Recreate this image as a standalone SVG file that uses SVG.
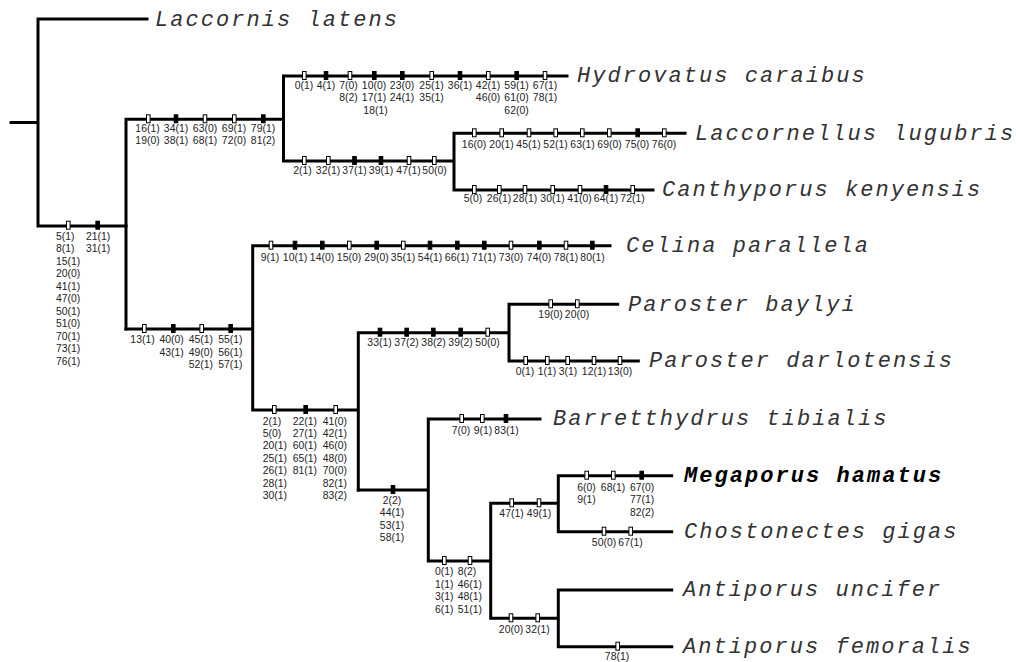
<svg xmlns="http://www.w3.org/2000/svg" xmlns:xlink="http://www.w3.org/1999/xlink" width="1016" height="662" viewBox="0 0 1016 662">
<style>
.br{stroke:#000;stroke-width:3;fill:none;stroke-linecap:square}
.o{fill:#fff;stroke:#000;stroke-width:1}
.f{fill:#000;stroke:#000;stroke-width:1}
.lb{font-family:"Liberation Sans",Arial,sans-serif;font-size:10.4px;fill:#222}
.c{text-anchor:middle}
.tx{font-family:"Liberation Mono","Courier New",monospace;font-style:italic;font-size:22px;letter-spacing:2.05px;fill:#333}
.bd{font-weight:bold;fill:#000}
</style>
<defs>
<rect id="mo" class="o" x="-1.8" y="-4.5" width="3.6" height="8"/>
<rect id="mf" class="f" x="-1.8" y="-4.5" width="3.6" height="8"/>
</defs>
<rect width="1016" height="662" fill="#fff"/>

<g id="connectors">
<path class="br" d="M11 122.5H38M38 19V226M38 19H147M38 226H126"/>
<path class="br" d="M126 119.3V329M126 119.3H283.5M283.5 76V161M283.5 76H567M283.5 161H454M454 133.3V190M454 133.3H685M454 190H653"/>
<path class="br" d="M126 329H252.7M252.7 245.7V410M252.7 245.7H610M252.7 410H358.3M358.3 332.7V490M358.3 332.7H509M509 304.3V361M509 304.3H617.7M509 361H638.3"/>
<path class="br" d="M358.3 490H428.3M428.3 419V561M428.3 419H540M428.3 561H490.7M490.7 503.3V618.3M490.7 503.3H558.3M558.3 475.7V531.7M558.3 475.7H671.7M558.3 531.7H671.7M490.7 618.3H558.3M558.3 590V646.7M558.3 590H671.7M558.3 646.7H671.7"/>
</g>

<g id="taxon-laccornis-latens"><text class="tx" x="155" y="25.5">Laccornis latens</text></g>
<g id="taxon-hydrovatus-caraibus"><text class="tx" x="577" y="82">Hydrovatus caraibus</text></g>
<g id="taxon-laccornellus-lugubris"><text class="tx" x="695" y="139.5">Laccornellus lugubris</text></g>
<g id="taxon-canthyporus-kenyensis"><text class="tx" x="662" y="196">Canthyporus kenyensis</text></g>
<g id="taxon-celina-parallela"><text class="tx" x="626" y="252">Celina parallela</text></g>
<g id="taxon-paroster-baylyi"><text class="tx" x="628" y="310.5">Paroster baylyi</text></g>
<g id="taxon-paroster-darlotensis"><text class="tx" x="649" y="367">Paroster darlotensis</text></g>
<g id="taxon-barretthydrus-tibialis"><text class="tx" x="553" y="425">Barretthydrus tibialis</text></g>
<g id="taxon-megaporus-hamatus"><text class="tx bd" x="684" y="482">Megaporus hamatus</text></g>
<g id="taxon-chostonectes-gigas"><text class="tx" x="684" y="538">Chostonectes gigas</text></g>
<g id="taxon-antiporus-uncifer"><text class="tx" x="683" y="596">Antiporus uncifer</text></g>
<g id="taxon-antiporus-femoralis"><text class="tx" x="683" y="652.5">Antiporus femoralis</text></g>

<g id="branch-ingroup">
<use href="#mo" x="68.3" y="225.7"/><use href="#mf" x="97.7" y="225.7"/>
<text class="lb" x="56" y="239.5"><tspan x="56">5(1)</tspan><tspan x="56" dy="12.55">8(1)</tspan><tspan x="56" dy="12.55">15(1)</tspan><tspan x="56" dy="12.55">20(0)</tspan><tspan x="56" dy="12.55">41(1)</tspan><tspan x="56" dy="12.55">47(0)</tspan><tspan x="56" dy="12.55">50(1)</tspan><tspan x="56" dy="12.55">51(0)</tspan><tspan x="56" dy="12.55">70(1)</tspan><tspan x="56" dy="12.55">73(1)</tspan><tspan x="56" dy="12.55">76(1)</tspan></text>
<text class="lb" x="86" y="239.5"><tspan x="86">21(1)</tspan><tspan x="86" dy="12.55">31(1)</tspan></text>
</g>

<g id="branch-clade-a">
<use href="#mo" x="148.3" y="119.3"/><use href="#mf" x="176" y="119.3"/><use href="#mo" x="205" y="119.3"/><use href="#mo" x="234.3" y="119.3"/><use href="#mf" x="263.3" y="119.3"/>
<text class="lb c" y="131.8"><tspan x="147.5">16(1)</tspan><tspan x="176">34(1)</tspan><tspan x="205">63(0)</tspan><tspan x="234">69(1)</tspan><tspan x="263">79(1)</tspan></text>
<text class="lb c" y="144.3"><tspan x="147.5">19(0)</tspan><tspan x="176">38(1)</tspan><tspan x="205">68(1)</tspan><tspan x="234">72(0)</tspan><tspan x="263">81(2)</tspan></text>
</g>

<g id="branch-hydrovatus">
<use href="#mo" x="304.3" y="76"/><use href="#mf" x="326" y="76"/><use href="#mo" x="350" y="76"/><use href="#mf" x="374.3" y="76"/><use href="#mf" x="402.3" y="76"/><use href="#mo" x="431.7" y="76"/><use href="#mf" x="460" y="76"/><use href="#mo" x="488.3" y="76"/><use href="#mf" x="516.7" y="76"/><use href="#mo" x="545" y="76"/>
<text class="lb c" y="88.5"><tspan x="304">0(1)</tspan><tspan x="326">4(1)</tspan><tspan x="348.5">7(0)</tspan><tspan x="374">10(0)</tspan><tspan x="402">23(0)</tspan><tspan x="431.5">25(1)</tspan><tspan x="460">36(1)</tspan><tspan x="488">42(1)</tspan><tspan x="516.5">59(1)</tspan><tspan x="545">67(1)</tspan></text>
<text class="lb c" y="101"><tspan x="348.5">8(2)</tspan><tspan x="374">17(1)</tspan><tspan x="402">24(1)</tspan><tspan x="431.5">35(1)</tspan><tspan x="488">46(0)</tspan><tspan x="516.5">61(0)</tspan><tspan x="545">78(1)</tspan></text>
<text class="lb c" y="113.5"><tspan x="375.5">18(1)</tspan><tspan x="516.5">62(0)</tspan></text>
</g>

<g id="branch-clade-c">
<use href="#mo" x="304.3" y="161"/><use href="#mo" x="328.3" y="161"/><use href="#mf" x="354.5" y="161"/><use href="#mf" x="381" y="161"/><use href="#mo" x="409" y="161"/><use href="#mo" x="434.3" y="161"/>
<text class="lb c" y="173.5"><tspan x="302.5">2(1)</tspan><tspan x="328">32(1)</tspan><tspan x="354.5">37(1)</tspan><tspan x="381">39(1)</tspan><tspan x="408.5">47(1)</tspan><tspan x="434.5">50(0)</tspan></text>
</g>

<g id="branch-laccornellus">
<use href="#mo" x="474.3" y="133.3"/><use href="#mo" x="501.7" y="133.3"/><use href="#mo" x="529" y="133.3"/><use href="#mo" x="555.7" y="133.3"/><use href="#mo" x="582.3" y="133.3"/><use href="#mo" x="609.3" y="133.3"/><use href="#mf" x="637.7" y="133.3"/><use href="#mo" x="664.3" y="133.3"/>
<text class="lb c" y="147.8"><tspan x="474">16(0)</tspan><tspan x="501.5">20(1)</tspan><tspan x="528.5">45(1)</tspan><tspan x="555.5">52(1)</tspan><tspan x="582.5">63(1)</tspan><tspan x="609.5">69(0)</tspan><tspan x="637">75(0)</tspan><tspan x="664">76(0)</tspan></text>
</g>

<g id="branch-canthyporus">
<use href="#mo" x="474.3" y="190"/><use href="#mo" x="499.3" y="190"/><use href="#mo" x="525" y="190"/><use href="#mo" x="552.7" y="190"/><use href="#mo" x="580" y="190"/><use href="#mf" x="606" y="190"/><use href="#mo" x="632.7" y="190"/>
<text class="lb c" y="202"><tspan x="473">5(0)</tspan><tspan x="499">26(1)</tspan><tspan x="525">28(1)</tspan><tspan x="552.5">30(1)</tspan><tspan x="579.5">41(0)</tspan><tspan x="606">64(1)</tspan><tspan x="632.5">72(1)</tspan></text>
</g>

<g id="branch-clade-d">
<use href="#mo" x="144.3" y="329"/><use href="#mf" x="173.3" y="329"/><use href="#mo" x="201.7" y="329"/><use href="#mf" x="230.7" y="329"/>
<text class="lb c" y="343"><tspan x="142.5">13(1)</tspan><tspan x="171.7">40(0)</tspan><tspan x="200.8">45(1)</tspan><tspan x="230.3">55(1)</tspan></text>
<text class="lb c" y="355.5"><tspan x="171.7">43(1)</tspan><tspan x="200.8">49(0)</tspan><tspan x="230.3">56(1)</tspan></text>
<text class="lb c" y="368"><tspan x="200.8">52(1)</tspan><tspan x="230.3">57(1)</tspan></text>
</g>

<g id="branch-celina">
<use href="#mo" x="271" y="245.7"/><use href="#mf" x="295" y="245.7"/><use href="#mf" x="322.3" y="245.7"/><use href="#mo" x="349.3" y="245.7"/><use href="#mf" x="376.7" y="245.7"/><use href="#mo" x="403.3" y="245.7"/><use href="#mf" x="430" y="245.7"/><use href="#mf" x="457.3" y="245.7"/><use href="#mf" x="484.3" y="245.7"/><use href="#mo" x="511" y="245.7"/><use href="#mf" x="539.3" y="245.7"/><use href="#mo" x="566" y="245.7"/><use href="#mf" x="592.3" y="245.7"/>
<text class="lb c" y="261"><tspan x="270">9(1)</tspan><tspan x="295">10(1)</tspan><tspan x="322">14(0)</tspan><tspan x="349">15(0)</tspan><tspan x="376.5">29(0)</tspan><tspan x="403">35(1)</tspan><tspan x="430">54(1)</tspan><tspan x="457">66(1)</tspan><tspan x="484">71(1)</tspan><tspan x="511">73(0)</tspan><tspan x="539">74(0)</tspan><tspan x="566">78(1)</tspan><tspan x="592.5">80(1)</tspan></text>
</g>

<g id="branch-clade-e">
<use href="#mo" x="274.3" y="410"/><use href="#mf" x="305.7" y="410"/><use href="#mo" x="335.7" y="410"/>
<text class="lb" y="424.5"><tspan x="262.7">2(1)</tspan><tspan x="262.7" dy="12.45">5(0)</tspan><tspan x="262.7" dy="12.45">20(1)</tspan><tspan x="262.7" dy="12.45">25(1)</tspan><tspan x="262.7" dy="12.45">26(1)</tspan><tspan x="262.7" dy="12.45">28(1)</tspan><tspan x="262.7" dy="12.45">30(1)</tspan></text>
<text class="lb" y="424.5"><tspan x="292.7">22(1)</tspan><tspan x="292.7" dy="12.45">27(1)</tspan><tspan x="292.7" dy="12.45">60(1)</tspan><tspan x="292.7" dy="12.45">65(1)</tspan><tspan x="292.7" dy="12.45">81(1)</tspan></text>
<text class="lb" y="424.5"><tspan x="322.7">41(0)</tspan><tspan x="322.7" dy="12.45">42(1)</tspan><tspan x="322.7" dy="12.45">46(0)</tspan><tspan x="322.7" dy="12.45">48(0)</tspan><tspan x="322.7" dy="12.45">70(0)</tspan><tspan x="322.7" dy="12.45">82(1)</tspan><tspan x="322.7" dy="12.45">83(2)</tspan></text>
</g>

<g id="branch-paroster">
<use href="#mf" x="380" y="332.7"/><use href="#mf" x="406.7" y="332.7"/><use href="#mf" x="433.3" y="332.7"/><use href="#mf" x="460.7" y="332.7"/><use href="#mo" x="487.7" y="332.7"/>
<text class="lb c" y="345.5"><tspan x="379.5">33(1)</tspan><tspan x="406.5">37(2)</tspan><tspan x="433.5">38(2)</tspan><tspan x="460.5">39(2)</tspan><tspan x="487.5">50(0)</tspan></text>
</g>

<g id="branch-paroster-baylyi">
<use href="#mo" x="550.7" y="304.3"/><use href="#mo" x="577.3" y="304.3"/>
<text class="lb c" y="318"><tspan x="550.5">19(0)</tspan><tspan x="577">20(0)</tspan></text>
</g>

<g id="branch-paroster-darlotensis">
<use href="#mo" x="525.7" y="361"/><use href="#mo" x="547.3" y="361"/><use href="#mo" x="567.7" y="361"/><use href="#mo" x="594" y="361"/><use href="#mo" x="620" y="361"/>
<text class="lb c" y="374.5"><tspan x="525">0(1)</tspan><tspan x="547">1(1)</tspan><tspan x="568">3(1)</tspan><tspan x="594">12(1)</tspan><tspan x="620">13(0)</tspan></text>
</g>

<g id="branch-clade-g">
<use href="#mf" x="393" y="490"/>
<text class="lb c" y="503.5"><tspan x="392">2(2)</tspan><tspan x="392" dy="12.5">44(1)</tspan><tspan x="392" dy="12.5">53(1)</tspan><tspan x="392" dy="12.5">58(1)</tspan></text>
</g>

<g id="branch-barretthydrus">
<use href="#mo" x="461.7" y="419"/><use href="#mo" x="482.3" y="419"/><use href="#mf" x="506" y="419"/>
<text class="lb c" y="434"><tspan x="461">7(0)</tspan><tspan x="483">9(1)</tspan><tspan x="506.5">83(1)</tspan></text>
</g>

<g id="branch-clade-h">
<use href="#mo" x="444.3" y="561"/><use href="#mo" x="470" y="561"/>
<text class="lb" y="575"><tspan x="435">0(1)</tspan><tspan x="435" dy="12.5">1(1)</tspan><tspan x="435" dy="12.5">3(1)</tspan><tspan x="435" dy="12.5">6(1)</tspan></text>
<text class="lb" y="575"><tspan x="457.7">8(2)</tspan><tspan x="457.7" dy="12.5">46(1)</tspan><tspan x="457.7" dy="12.5">48(1)</tspan><tspan x="457.7" dy="12.5">51(1)</tspan></text>
</g>

<g id="branch-clade-i">
<use href="#mo" x="511.7" y="503.3"/><use href="#mo" x="539" y="503.3"/>
<text class="lb c" y="517"><tspan x="511.5">47(1)</tspan><tspan x="539">49(1)</tspan></text>
</g>

<g id="branch-megaporus">
<use href="#mo" x="586.7" y="475.7"/><use href="#mo" x="613.3" y="475.7"/><use href="#mf" x="641.7" y="475.7"/>
<text class="lb" y="490.5"><tspan x="577.3">6(0)</tspan><tspan x="577.3" dy="12.5">9(1)</tspan></text>
<text class="lb c" x="613" y="490.5">68(1)</text>
<text class="lb" y="490.5"><tspan x="630">67(0)</tspan><tspan x="630" dy="12.5">77(1)</tspan><tspan x="630" dy="12.5">82(2)</tspan></text>
</g>

<g id="branch-chostonectes">
<use href="#mo" x="604" y="531.7"/><use href="#mo" x="630.7" y="531.7"/>
<text class="lb c" y="546"><tspan x="604">50(0)</tspan><tspan x="630.5">67(1)</tspan></text>
</g>

<g id="branch-clade-j">
<use href="#mo" x="511" y="618.3"/><use href="#mo" x="537.7" y="618.3"/>
<text class="lb c" y="633"><tspan x="511">20(0)</tspan><tspan x="537.5">32(1)</tspan></text>
</g>

<g id="branch-antiporus-femoralis">
<use href="#mo" x="617.7" y="646.7"/>
<text class="lb c" x="617" y="660">78(1)</text>
</g>
</svg>
